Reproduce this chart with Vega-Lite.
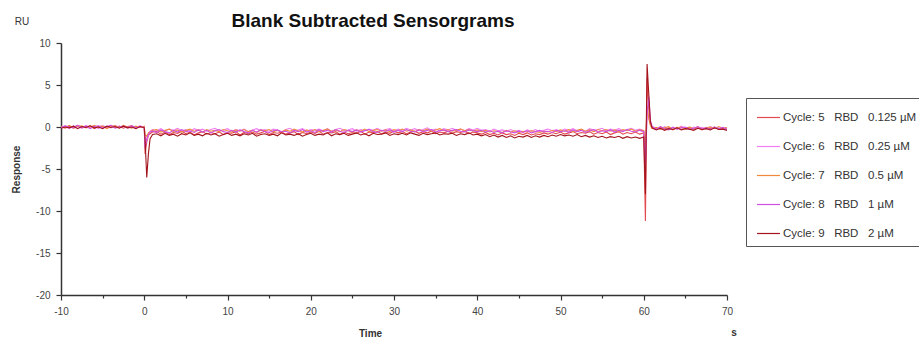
{
  "$schema": "https://vega.github.io/schema/vega-lite/v6.json",
  "width": 666,
  "height": 252,
  "autosize": "none",
  "padding": {"left": 61, "top": 43, "right": 192, "bottom": 48},
  "background": "white",
  "config": {
    "view": {"stroke": null},
    "font": "Liberation Sans",
    "axis": {
      "domainColor": "#333",
      "domainWidth": 1.5,
      "tickColor": "#333",
      "tickWidth": 1.2,
      "labelColor": "#444",
      "labelFontSize": 10,
      "labelFont": "Liberation Sans",
      "titleFont": "Liberation Sans",
      "titleFontSize": 10,
      "titleFontWeight": "bold",
      "titleColor": "#333",
      "grid": false
    }
  },
  "title": {
    "text": "Blank Subtracted Sensorgrams",
    "fontSize": 19,
    "fontWeight": "bold",
    "font": "Liberation Sans",
    "color": "#111",
    "anchor": "middle",
    "dx": -21,
    "offset": -14
  },
  "layer": [
    {
      "data": {
        "values": [
          {"t": -10, "a": 0.05, "b": -0.1, "c": 0.1, "d": -0.05, "e": -0.15},
          {"t": -9.5, "a": -0.15, "b": 0.1, "c": -0.05, "d": 0.15, "e": 0.0},
          {"t": -9, "a": 0.1, "b": -0.2, "c": 0.2, "d": 0.0, "e": -0.1},
          {"t": -8.5, "a": -0.05, "b": 0.15, "c": -0.15, "d": -0.1, "e": 0.1},
          {"t": -8, "a": 0.2, "b": 0.0, "c": 0.05, "d": 0.2, "e": -0.2},
          {"t": -7.5, "a": -0.1, "b": -0.15, "c": 0.15, "d": -0.05, "e": 0.05},
          {"t": -7, "a": 0.0, "b": 0.2, "c": -0.1, "d": 0.1, "e": -0.05},
          {"t": -6.5, "a": 0.15, "b": -0.05, "c": 0.0, "d": -0.2, "e": 0.15},
          {"t": -6, "a": -0.2, "b": 0.1, "c": 0.2, "d": 0.05, "e": -0.1},
          {"t": -5.5, "a": 0.05, "b": -0.2, "c": -0.05, "d": 0.15, "e": 0.0},
          {"t": -5, "a": 0.1, "b": 0.15, "c": 0.1, "d": -0.1, "e": -0.2},
          {"t": -4.5, "a": -0.1, "b": 0.0, "c": -0.2, "d": 0.05, "e": 0.1},
          {"t": -4, "a": 0.2, "b": -0.1, "c": 0.05, "d": 0.2, "e": -0.05},
          {"t": -3.5, "a": -0.05, "b": 0.2, "c": 0.15, "d": -0.15, "e": 0.05},
          {"t": -3, "a": 0.1, "b": -0.05, "c": -0.1, "d": 0.0, "e": -0.15},
          {"t": -2.5, "a": -0.15, "b": 0.1, "c": 0.2, "d": 0.1, "e": 0.1},
          {"t": -2, "a": 0.05, "b": -0.15, "c": 0.0, "d": -0.05, "e": -0.1},
          {"t": -1.5, "a": 0.15, "b": 0.05, "c": -0.15, "d": 0.15, "e": 0.0},
          {"t": -1, "a": -0.1, "b": -0.1, "c": 0.1, "d": -0.1, "e": -0.2},
          {"t": -0.5, "a": 0.05, "b": 0.15, "c": -0.05, "d": 0.05, "e": 0.05},
          {"t": 0, "a": 0.0, "b": -0.1, "c": 0.1, "d": -0.05, "e": -0.1},
          {"t": 0.1, "a": -3.2, "b": -1.2, "c": -0.9, "d": -2.6, "e": -1.5},
          {"t": 0.3, "a": -1.8, "b": -1.6, "c": -1.1, "d": -1.4, "e": -6.0},
          {"t": 0.5, "a": -1.0, "b": -0.8, "c": -0.7, "d": -0.9, "e": -3.2},
          {"t": 0.7, "a": -0.8, "b": -0.5, "c": -0.6, "d": -0.6, "e": -1.4},
          {"t": 1, "a": -0.6, "b": -0.3, "c": -0.4, "d": -0.5, "e": -0.9},
          {"t": 1.5, "a": -0.55, "b": -0.45, "c": -0.3, "d": -0.65, "e": -0.8},
          {"t": 2, "a": -0.85, "b": -0.2, "c": -0.6, "d": -0.35, "e": -1.05},
          {"t": 2.5, "a": -0.6, "b": -0.5, "c": -0.4, "d": -0.55, "e": -0.75},
          {"t": 3, "a": -0.9, "b": -0.25, "c": -0.25, "d": -0.7, "e": -1.0},
          {"t": 3.5, "a": -0.65, "b": -0.4, "c": -0.55, "d": -0.4, "e": -0.85},
          {"t": 4, "a": -0.75, "b": -0.15, "c": -0.35, "d": -0.6, "e": -1.1},
          {"t": 4.5, "a": -0.5, "b": -0.45, "c": -0.6, "d": -0.3, "e": -0.8},
          {"t": 5, "a": -0.8, "b": -0.3, "c": -0.4, "d": -0.55, "e": -0.95},
          {"t": 5.5, "a": -0.6, "b": -0.55, "c": -0.25, "d": -0.45, "e": -0.7},
          {"t": 6, "a": -0.95, "b": -0.2, "c": -0.5, "d": -0.65, "e": -1.0},
          {"t": 6.5, "a": -0.7, "b": -0.4, "c": -0.35, "d": -0.35, "e": -0.85},
          {"t": 7, "a": -0.55, "b": -0.25, "c": -0.6, "d": -0.6, "e": -1.05},
          {"t": 7.5, "a": -0.85, "b": -0.5, "c": -0.3, "d": -0.4, "e": -0.75},
          {"t": 8, "a": -0.65, "b": -0.3, "c": -0.5, "d": -0.7, "e": -0.95},
          {"t": 8.5, "a": -0.8, "b": -0.15, "c": -0.4, "d": -0.45, "e": -0.8},
          {"t": 9, "a": -0.6, "b": -0.45, "c": -0.55, "d": -0.3, "e": -1.1},
          {"t": 9.5, "a": -0.9, "b": -0.35, "c": -0.3, "d": -0.55, "e": -0.9},
          {"t": 10, "a": -0.7, "b": -0.2, "c": -0.45, "d": -0.65, "e": -0.75},
          {"t": 10.5, "a": -0.75, "b": -0.5, "c": -0.6, "d": -0.4, "e": -1.0},
          {"t": 11, "a": -0.55, "b": -0.3, "c": -0.35, "d": -0.6, "e": -0.85},
          {"t": 11.5, "a": -0.95, "b": -0.45, "c": -0.5, "d": -0.35, "e": -1.05},
          {"t": 12, "a": -0.65, "b": -0.25, "c": -0.3, "d": -0.55, "e": -0.8},
          {"t": 12.5, "a": -0.8, "b": -0.55, "c": -0.55, "d": -0.7, "e": -0.95},
          {"t": 13, "a": -0.6, "b": -0.35, "c": -0.4, "d": -0.4, "e": -0.75},
          {"t": 13.5, "a": -0.85, "b": -0.2, "c": -0.65, "d": -0.6, "e": -1.1},
          {"t": 14, "a": -0.7, "b": -0.45, "c": -0.35, "d": -0.3, "e": -0.9},
          {"t": 14.5, "a": -0.5, "b": -0.3, "c": -0.45, "d": -0.55, "e": -0.8},
          {"t": 15, "a": -0.9, "b": -0.5, "c": -0.3, "d": -0.65, "e": -1.0},
          {"t": 15.5, "a": -0.65, "b": -0.25, "c": -0.55, "d": -0.45, "e": -0.85},
          {"t": 16, "a": -0.75, "b": -0.4, "c": -0.4, "d": -0.35, "e": -1.05},
          {"t": 16.5, "a": -0.6, "b": -0.55, "c": -0.6, "d": -0.6, "e": -0.7},
          {"t": 17, "a": -0.85, "b": -0.3, "c": -0.35, "d": -0.5, "e": -0.95},
          {"t": 17.5, "a": -0.7, "b": -0.15, "c": -0.5, "d": -0.7, "e": -0.85},
          {"t": 18, "a": -0.55, "b": -0.45, "c": -0.25, "d": -0.4, "e": -1.0},
          {"t": 18.5, "a": -0.9, "b": -0.35, "c": -0.45, "d": -0.55, "e": -0.8},
          {"t": 19, "a": -0.65, "b": -0.2, "c": -0.6, "d": -0.3, "e": -1.1},
          {"t": 19.5, "a": -0.8, "b": -0.5, "c": -0.35, "d": -0.6, "e": -0.9},
          {"t": 20, "a": -0.6, "b": -0.3, "c": -0.5, "d": -0.45, "e": -0.75},
          {"t": 20.5, "a": -0.75, "b": -0.4, "c": -0.3, "d": -0.65, "e": -1.0},
          {"t": 21, "a": -0.5, "b": -0.25, "c": -0.55, "d": -0.35, "e": -0.85},
          {"t": 21.5, "a": -0.85, "b": -0.45, "c": -0.4, "d": -0.55, "e": -0.95},
          {"t": 22, "a": -0.65, "b": -0.2, "c": -0.25, "d": -0.4, "e": -0.7},
          {"t": 22.5, "a": -0.7, "b": -0.5, "c": -0.5, "d": -0.6, "e": -1.05},
          {"t": 23, "a": -0.55, "b": -0.3, "c": -0.35, "d": -0.3, "e": -0.8},
          {"t": 23.5, "a": -0.9, "b": -0.15, "c": -0.55, "d": -0.5, "e": -0.9},
          {"t": 24, "a": -0.6, "b": -0.4, "c": -0.3, "d": -0.65, "e": -0.75},
          {"t": 24.5, "a": -0.8, "b": -0.35, "c": -0.45, "d": -0.4, "e": -1.0},
          {"t": 25, "a": -0.65, "b": -0.2, "c": -0.6, "d": -0.55, "e": -0.85},
          {"t": 25.5, "a": -0.75, "b": -0.5, "c": -0.35, "d": -0.35, "e": -0.7},
          {"t": 26, "a": -0.5, "b": -0.3, "c": -0.5, "d": -0.6, "e": -0.95},
          {"t": 26.5, "a": -0.85, "b": -0.45, "c": -0.25, "d": -0.45, "e": -0.8},
          {"t": 27, "a": -0.6, "b": -0.25, "c": -0.55, "d": -0.3, "e": -1.05},
          {"t": 27.5, "a": -0.7, "b": -0.4, "c": -0.4, "d": -0.55, "e": -0.75},
          {"t": 28, "a": -0.55, "b": -0.15, "c": -0.3, "d": -0.65, "e": -0.9},
          {"t": 28.5, "a": -0.8, "b": -0.45, "c": -0.5, "d": -0.4, "e": -0.85},
          {"t": 29, "a": -0.6, "b": -0.3, "c": -0.35, "d": -0.5, "e": -0.7},
          {"t": 29.5, "a": -0.75, "b": -0.2, "c": -0.55, "d": -0.35, "e": -1.0},
          {"t": 30, "a": -0.5, "b": -0.5, "c": -0.3, "d": -0.6, "e": -0.8},
          {"t": 30.5, "a": -0.7, "b": -0.25, "c": -0.45, "d": -0.4, "e": -0.9},
          {"t": 31, "a": -0.55, "b": -0.4, "c": -0.25, "d": -0.55, "e": -0.75},
          {"t": 31.5, "a": -0.8, "b": -0.15, "c": -0.5, "d": -0.3, "e": -0.95},
          {"t": 32, "a": -0.6, "b": -0.35, "c": -0.35, "d": -0.5, "e": -0.7},
          {"t": 32.5, "a": -0.5, "b": -0.2, "c": -0.55, "d": -0.6, "e": -0.85},
          {"t": 33, "a": -0.75, "b": -0.45, "c": -0.3, "d": -0.35, "e": -1.0},
          {"t": 33.5, "a": -0.55, "b": -0.3, "c": -0.45, "d": -0.55, "e": -0.75},
          {"t": 34, "a": -0.7, "b": -0.1, "c": -0.25, "d": -0.4, "e": -0.9},
          {"t": 34.5, "a": -0.5, "b": -0.4, "c": -0.5, "d": -0.3, "e": -0.8},
          {"t": 35, "a": -0.8, "b": -0.25, "c": -0.35, "d": -0.6, "e": -0.7},
          {"t": 35.5, "a": -0.6, "b": -0.45, "c": -0.2, "d": -0.45, "e": -0.95},
          {"t": 36, "a": -0.7, "b": -0.2, "c": -0.45, "d": -0.35, "e": -0.8},
          {"t": 36.5, "a": -0.5, "b": -0.35, "c": -0.3, "d": -0.55, "e": -0.85},
          {"t": 37, "a": -0.75, "b": -0.15, "c": -0.5, "d": -0.4, "e": -0.75},
          {"t": 37.5, "a": -0.55, "b": -0.4, "c": -0.35, "d": -0.3, "e": -1.0},
          {"t": 38, "a": -0.65, "b": -0.25, "c": -0.25, "d": -0.5, "e": -0.8},
          {"t": 38.5, "a": -0.5, "b": -0.45, "c": -0.45, "d": -0.6, "e": -0.9},
          {"t": 39, "a": -0.8, "b": -0.2, "c": -0.3, "d": -0.35, "e": -0.7},
          {"t": 39.5, "a": -0.6, "b": -0.35, "c": -0.5, "d": -0.45, "e": -0.95},
          {"t": 40, "a": -0.7, "b": -0.15, "c": -0.35, "d": -0.55, "e": -0.85},
          {"t": 40.5, "a": -0.85, "b": -0.4, "c": -0.55, "d": -0.4, "e": -1.05},
          {"t": 41, "a": -0.65, "b": -0.3, "c": -0.4, "d": -0.6, "e": -0.9},
          {"t": 41.5, "a": -0.9, "b": -0.5, "c": -0.6, "d": -0.45, "e": -1.15},
          {"t": 42, "a": -0.75, "b": -0.25, "c": -0.45, "d": -0.65, "e": -0.95},
          {"t": 42.5, "a": -0.95, "b": -0.45, "c": -0.55, "d": -0.5, "e": -1.2},
          {"t": 43, "a": -0.7, "b": -0.35, "c": -0.65, "d": -0.7, "e": -1.0},
          {"t": 43.5, "a": -0.9, "b": -0.55, "c": -0.4, "d": -0.45, "e": -1.25},
          {"t": 44, "a": -0.8, "b": -0.3, "c": -0.6, "d": -0.6, "e": -1.05},
          {"t": 44.5, "a": -1.0, "b": -0.5, "c": -0.45, "d": -0.7, "e": -1.3},
          {"t": 45, "a": -0.75, "b": -0.4, "c": -0.65, "d": -0.5, "e": -1.1},
          {"t": 45.5, "a": -0.9, "b": -0.6, "c": -0.5, "d": -0.65, "e": -1.2},
          {"t": 46, "a": -0.7, "b": -0.35, "c": -0.6, "d": -0.45, "e": -1.0},
          {"t": 46.5, "a": -0.95, "b": -0.5, "c": -0.45, "d": -0.7, "e": -1.25},
          {"t": 47, "a": -0.8, "b": -0.3, "c": -0.55, "d": -0.55, "e": -1.05},
          {"t": 47.5, "a": -0.9, "b": -0.55, "c": -0.65, "d": -0.4, "e": -1.2},
          {"t": 48, "a": -0.7, "b": -0.4, "c": -0.5, "d": -0.6, "e": -1.0},
          {"t": 48.5, "a": -0.85, "b": -0.25, "c": -0.6, "d": -0.5, "e": -1.15},
          {"t": 49, "a": -0.65, "b": -0.45, "c": -0.4, "d": -0.65, "e": -0.95},
          {"t": 49.5, "a": -0.8, "b": -0.3, "c": -0.55, "d": -0.4, "e": -1.1},
          {"t": 50, "a": -0.6, "b": -0.5, "c": -0.35, "d": -0.55, "e": -0.9},
          {"t": 50.5, "a": -0.85, "b": -0.25, "c": -0.5, "d": -0.45, "e": -1.05},
          {"t": 51, "a": -0.7, "b": -0.4, "c": -0.3, "d": -0.6, "e": -0.95},
          {"t": 51.5, "a": -0.55, "b": -0.2, "c": -0.55, "d": -0.35, "e": -1.1},
          {"t": 52, "a": -0.8, "b": -0.45, "c": -0.4, "d": -0.55, "e": -0.9},
          {"t": 52.5, "a": -0.65, "b": -0.3, "c": -0.25, "d": -0.4, "e": -1.15},
          {"t": 53, "a": -0.75, "b": -0.5, "c": -0.5, "d": -0.65, "e": -1.0},
          {"t": 53.5, "a": -0.55, "b": -0.2, "c": -0.35, "d": -0.45, "e": -1.2},
          {"t": 54, "a": -0.85, "b": -0.4, "c": -0.55, "d": -0.3, "e": -1.05},
          {"t": 54.5, "a": -0.65, "b": -0.3, "c": -0.3, "d": -0.6, "e": -1.25},
          {"t": 55, "a": -0.8, "b": -0.15, "c": -0.45, "d": -0.45, "e": -1.1},
          {"t": 55.5, "a": -0.6, "b": -0.45, "c": -0.3, "d": -0.55, "e": -1.3},
          {"t": 56, "a": -0.9, "b": -0.25, "c": -0.5, "d": -0.35, "e": -1.15},
          {"t": 56.5, "a": -0.7, "b": -0.4, "c": -0.35, "d": -0.6, "e": -1.25},
          {"t": 57, "a": -0.55, "b": -0.2, "c": -0.55, "d": -0.4, "e": -1.1},
          {"t": 57.5, "a": -0.85, "b": -0.45, "c": -0.3, "d": -0.55, "e": -1.35},
          {"t": 58, "a": -0.65, "b": -0.3, "c": -0.45, "d": -0.3, "e": -1.15},
          {"t": 58.5, "a": -0.8, "b": -0.15, "c": -0.25, "d": -0.5, "e": -1.3},
          {"t": 59, "a": -0.6, "b": -0.4, "c": -0.5, "d": -0.6, "e": -1.2},
          {"t": 59.5, "a": -0.85, "b": -0.25, "c": -0.35, "d": -0.4, "e": -1.35},
          {"t": 60, "a": -0.7, "b": -0.4, "c": -0.45, "d": -0.55, "e": -1.2},
          {"t": 60.2, "a": -11.2, "b": -3.0, "c": -2.2, "d": -4.5, "e": -8.0},
          {"t": 60.4, "a": 5.8, "b": 2.0, "c": 2.6, "d": 1.5, "e": 7.5},
          {"t": 60.6, "a": 2.2, "b": 1.2, "c": 1.0, "d": 3.6, "e": 4.0},
          {"t": 60.8, "a": 0.4, "b": 0.3, "c": 0.2, "d": 0.8, "e": 0.6},
          {"t": 61, "a": -0.1, "b": 0.0, "c": -0.2, "d": 0.1, "e": -0.1},
          {"t": 61.5, "a": -0.3, "b": -0.1, "c": -0.05, "d": -0.25, "e": -0.35},
          {"t": 62, "a": 0.0, "b": -0.3, "c": -0.25, "d": 0.05, "e": -0.15},
          {"t": 62.5, "a": -0.25, "b": 0.05, "c": -0.1, "d": -0.2, "e": -0.4},
          {"t": 63, "a": -0.1, "b": -0.2, "c": 0.05, "d": -0.35, "e": -0.2},
          {"t": 63.5, "a": -0.35, "b": 0.0, "c": -0.3, "d": -0.05, "e": -0.3},
          {"t": 64, "a": -0.05, "b": -0.25, "c": -0.1, "d": -0.25, "e": -0.1},
          {"t": 64.5, "a": -0.3, "b": 0.1, "c": 0.0, "d": -0.1, "e": -0.35},
          {"t": 65, "a": -0.15, "b": -0.15, "c": -0.25, "d": 0.0, "e": -0.2},
          {"t": 65.5, "a": 0.0, "b": -0.3, "c": -0.05, "d": -0.3, "e": -0.25},
          {"t": 66, "a": -0.25, "b": 0.0, "c": -0.2, "d": -0.15, "e": -0.4},
          {"t": 66.5, "a": -0.1, "b": -0.2, "c": 0.05, "d": 0.05, "e": -0.15},
          {"t": 67, "a": -0.35, "b": -0.05, "c": -0.3, "d": -0.25, "e": -0.3},
          {"t": 67.5, "a": -0.05, "b": -0.25, "c": -0.1, "d": -0.1, "e": -0.2},
          {"t": 68, "a": -0.2, "b": 0.05, "c": 0.0, "d": -0.3, "e": -0.35},
          {"t": 68.5, "a": 0.0, "b": -0.15, "c": -0.2, "d": 0.0, "e": -0.1},
          {"t": 69, "a": -0.3, "b": -0.1, "c": 0.05, "d": -0.2, "e": -0.3},
          {"t": 69.5, "a": -0.15, "b": -0.3, "c": -0.15, "d": -0.05, "e": -0.25},
          {"t": 70, "a": -0.25, "b": -0.05, "c": -0.05, "d": -0.25, "e": -0.4}
        ]
      },
      "transform": [{"fold": ["a", "b", "c", "d", "e"], "as": ["series", "r"]}],
      "mark": {"type": "line", "strokeWidth": 1.1, "clip": true},
      "encoding": {
        "x": {
          "field": "t",
          "type": "quantitative",
          "scale": {"domain": [-10, 70], "nice": false, "zero": false},
          "axis": {
            "title": "Time",
            "values": [-10, -5, 0, 5, 10, 15, 20, 25, 30, 35, 40, 45, 50, 55, 60, 65, 70],
            "labelExpr": "datum.value % 10 == 0 ? toString(datum.value) : ''",
            "tickSize": {"condition": {"test": "datum.value % 10 == 0", "value": 5}, "value": 3},
            "labelPadding": 6,
            "labelFlush": false,
            "titleX": 309,
            "titleY": 38,
            "titleAlign": "center",
            "titleBaseline": "middle"
          }
        },
        "y": {
          "field": "r",
          "type": "quantitative",
          "scale": {"domain": [-20, 10], "nice": false, "zero": false},
          "axis": {
            "title": "Response",
            "values": [-20, -17.5, -15, -12.5, -10, -7.5, -5, -2.5, 0, 2.5, 5, 7.5, 10],
            "labelExpr": "datum.value % 5 == 0 ? toString(datum.value) : ''",
            "tickSize": {"condition": {"test": "datum.value % 5 == 0", "value": 5}, "value": 3},
            "labelPadding": 6,
            "labelFlush": false,
            "titleX": -45,
            "titleY": 126,
            "titleAngle": 270,
            "titleAlign": "center",
            "titleBaseline": "middle"
          }
        },
        "color": {
          "field": "series",
          "type": "nominal",
          "scale": {
            "domain": ["a", "b", "c", "d", "e"],
            "range": ["#e34a4f", "#f07ef0", "#f08a3a", "#cf4fe0", "#a3141c"]
          },
          "legend": {
            "title": null,
            "orient": "none",
            "legendX": 685,
            "legendY": 55,
            "strokeColor": "#555",
            "fillColor": "white",
            "padding": 7,
            "symbolOffset": 3,
            "symbolType": "stroke",
            "symbolSize": 529,
            "symbolStrokeWidth": 1.2,
            "labelFontSize": 11.5,
            "labelFont": "Liberation Sans",
            "labelColor": "#333",
            "labelOffset": 2,
            "rowPadding": 11,
            "labelLimit": 300,
            "labelExpr": "({'a':'Cycle: 5\u00a0\u00a0 RBD\u00a0\u00a0 0.125 µM','b':'Cycle: 6\u00a0\u00a0 RBD\u00a0\u00a0 0.25 µM','c':'Cycle: 7\u00a0\u00a0 RBD\u00a0\u00a0 0.5 µM','d':'Cycle: 8\u00a0\u00a0 RBD\u00a0\u00a0 1 µM','e':'Cycle: 9\u00a0\u00a0 RBD\u00a0\u00a0 2 µM'})[datum.label]"
          }
        }
      }
    },
    {
      "data": {"values": [{"t": -10, "r": 10, "label": "RU"}]},
      "mark": {"type": "text", "dx": -39, "dy": -21, "align": "center", "baseline": "middle", "fontSize": 10, "font": "Liberation Sans", "color": "#333", "clip": false},
      "encoding": {
        "x": {"field": "t", "type": "quantitative"},
        "y": {"field": "r", "type": "quantitative"},
        "text": {"field": "label"}
      }
    },
    {
      "data": {"values": [{"t": 70, "r": -20, "label": "s"}]},
      "mark": {"type": "text", "dx": 7, "dy": 38, "align": "center", "baseline": "middle", "fontSize": 10, "fontWeight": "bold", "font": "Liberation Sans", "color": "#333", "clip": false},
      "encoding": {
        "x": {"field": "t", "type": "quantitative"},
        "y": {"field": "r", "type": "quantitative"},
        "text": {"field": "label"}
      }
    }
  ]
}
